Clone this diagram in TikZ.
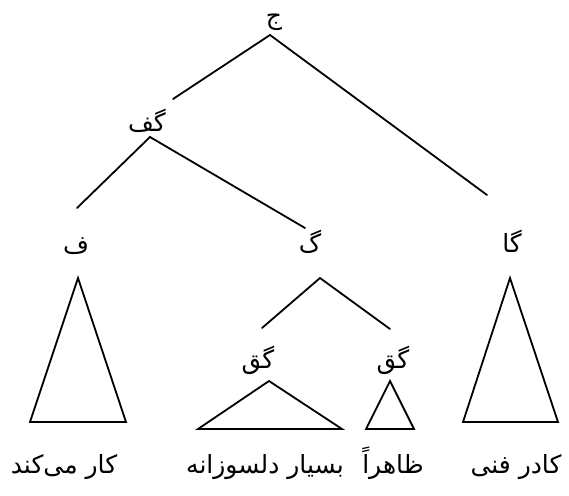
\documentclass[tikz,border=0pt]{standalone}
\usepackage{fontspec}
\TeXXeTstate=1
\newfontfamily\arabicfont[Script=Arabic]{DejaVu Sans}
\begin{document}
\begin{tikzpicture}[x=1pt,y=-1pt,
  lbl/.style={font=\arabicfont\fontsize{25}{29}\selectfont, inner sep=0pt, anchor=base},
  branch/.style={line width=1.8pt, line cap=round},
  tri/.style={line width=1.8pt, line join=miter}]
  \useasboundingbox (0,0) rectangle (569,495);

  % category labels (positions are baselines)
  \node[lbl] (j)   at (274,25)  {\beginR ج\endR};
  \node[lbl] (gf)  at (147,131) {\beginR گف\endR};
  \node[lbl] (f)   at (76,253)  {\beginR ف\endR};
  \node[lbl] (g)   at (310,252) {\beginR گ\endR};
  \node[lbl] (ga)  at (512,252) {\beginR گا\endR};
  \node[lbl] (gq1) at (258,368) {\beginR گق\endR};
  \node[lbl] (gq2) at (393,368) {\beginR گق\endR};

  % words
  \node[lbl] (w1) at (64,473)  {\beginR کار می^^^^200cکند\endR};
  \node[lbl] (w2) at (265,473) {\beginR بسیار دلسوزانه\endR};
  \node[lbl] (w3) at (393,473) {\beginR ظاهراً\endR};
  \node[lbl] (w4) at (516,473) {\beginR کادر فنی\endR};

  % branch points
  \coordinate (jTop) at (270,35);
  \coordinate (jL)   at (173,99);
  \coordinate (jR)   at (487,195);
  \coordinate (gfTop) at (150,137);
  \coordinate (gfL)  at (77,208);
  \coordinate (gfR)  at (305,228);
  \coordinate (gTop) at (320,278);
  \coordinate (gL)   at (262,328);
  \coordinate (gR)   at (390,329);

  \draw[branch] (jL) -- (jTop) -- (jR);
  \draw[branch] (gfL) -- (gfTop) -- (gfR);
  \draw[branch] (gL) -- (gTop) -- (gR);

  % subtree triangles
  \coordinate (t1a) at (78,278);  \coordinate (t1b) at (30,422);  \coordinate (t1c) at (126,422);
  \coordinate (t2a) at (269,381); \coordinate (t2b) at (198,429); \coordinate (t2c) at (342,429);
  \coordinate (t3a) at (390,381); \coordinate (t3b) at (366,429); \coordinate (t3c) at (414,429);
  \coordinate (t4a) at (510,278); \coordinate (t4b) at (463,422); \coordinate (t4c) at (558,422);
  \draw[tri] (t1a) -- (t1b) -- (t1c) -- cycle;
  \draw[tri] (t2a) -- (t2b) -- (t2c) -- cycle;
  \draw[tri] (t3a) -- (t3b) -- (t3c) -- cycle;
  \draw[tri] (t4a) -- (t4b) -- (t4c) -- cycle;
\end{tikzpicture}
\end{document}
